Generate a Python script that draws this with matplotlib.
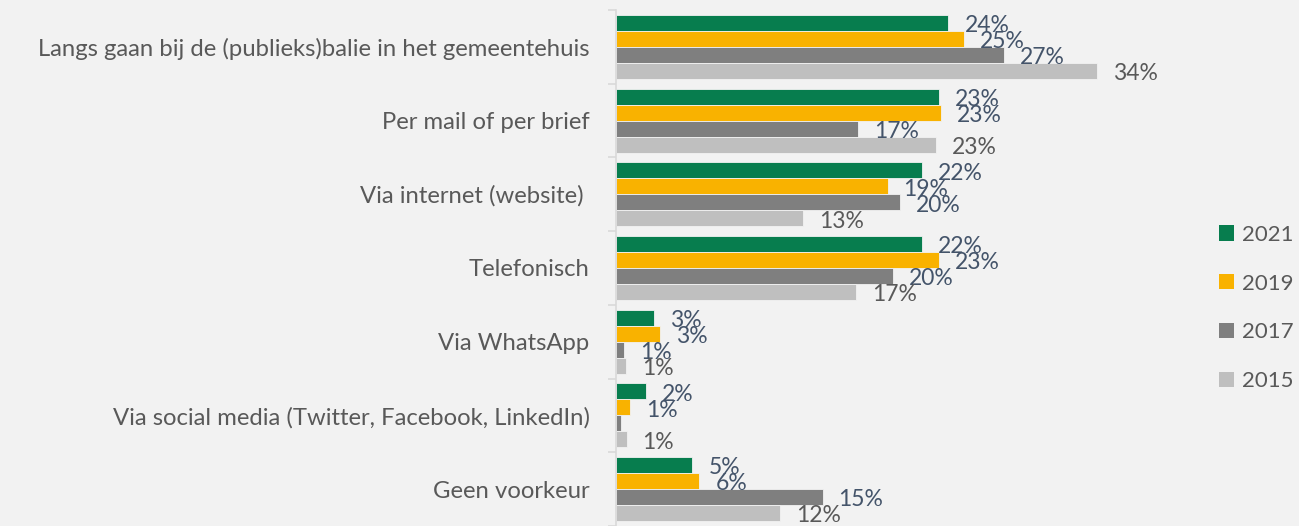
import matplotlib.pyplot as plt
import numpy as np
from matplotlib.patches import Patch

plt.rcParams['font.family'] = ['Lato', 'DejaVu Sans']

# Data (percentages)
categories = [
    "Langs gaan bij de (publieks)balie in het gemeentehuis",
    "Per mail of per brief",
    "Via internet (website) ",
    "Telefonisch",
    "Via WhatsApp",
    "Via social media (Twitter, Facebook, LinkedIn)",
    "Geen voorkeur",
]
years = ["2021", "2019", "2017", "2015"]
v2021 = [23.5, 22.8, 21.6, 21.6, 2.7, 2.1, 5.4]
v2019 = [24.6, 23.0, 19.2, 22.8, 3.1, 1.0, 5.9]
v2017 = [27.4, 17.1, 20.1, 19.6, 0.6, 0.35, 14.6]
v2015 = [34.0, 22.6, 13.2, 17.0, 0.7, 0.75, 11.6]
series = [v2021, v2019, v2017, v2015]

colors = ['#077d4e', '#f9b200', '#7f7f7f', '#bfbfbf']
label_colors = ['#44546a', '#44546a', '#44546a', '#595959']
bg = '#f2f2f2'

fig = plt.figure(figsize=(12.99, 5.26), dpi=100, facecolor=bg)
ax = fig.add_axes([616/1299, 0.0, 580/1299, 1 - 10/526])
ax.set_facecolor(bg)

n = len(categories)
y = np.arange(n)
bh = 0.217
for k, vals in enumerate(series):
    ypos = y + (k - 1.5) * bh
    ax.barh(ypos, vals, height=bh, color=colors[k], edgecolor=bg, linewidth=0.6)
    for yy, v in zip(ypos, vals):
        if round(v) == 0:
            continue
        ax.annotate(f"{round(v):d}%", (v, yy), xytext=(11.5, -2), textcoords='offset points',
                    ha='left', va='center', fontsize=16.5, color=label_colors[k])

ax.set_xlim(0, 41)
ax.set_ylim(n - 0.5, -0.5)
for s in ['top', 'right', 'bottom']:
    ax.spines[s].set_visible(False)
ax.spines['left'].set_color('#d9d9d9')
ax.spines['left'].set_linewidth(1.2)
ax.set_xticks([])
ax.set_yticks(y)
ax.set_yticklabels(categories, fontsize=17.2, color='#595959')
ax.tick_params(axis='y', which='major', length=0, pad=19)
ax.set_yticks(np.arange(n + 1) - 0.5, minor=True)
ax.tick_params(axis='y', which='minor', length=6, color='#d9d9d9', width=1.2)

handles = [Patch(facecolor=c, edgecolor='none') for c in colors]
fig.legend(handles, years, loc='center left', bbox_to_anchor=(1219/1299, 1 - 308/526),
           frameon=False, fontsize=16, labelcolor='#595959', borderpad=0, borderaxespad=0,
           handlelength=0.68, handleheight=0.68, handletextpad=0.35, labelspacing=1.3)

fig.savefig('out.png', dpi=100, facecolor=bg)
